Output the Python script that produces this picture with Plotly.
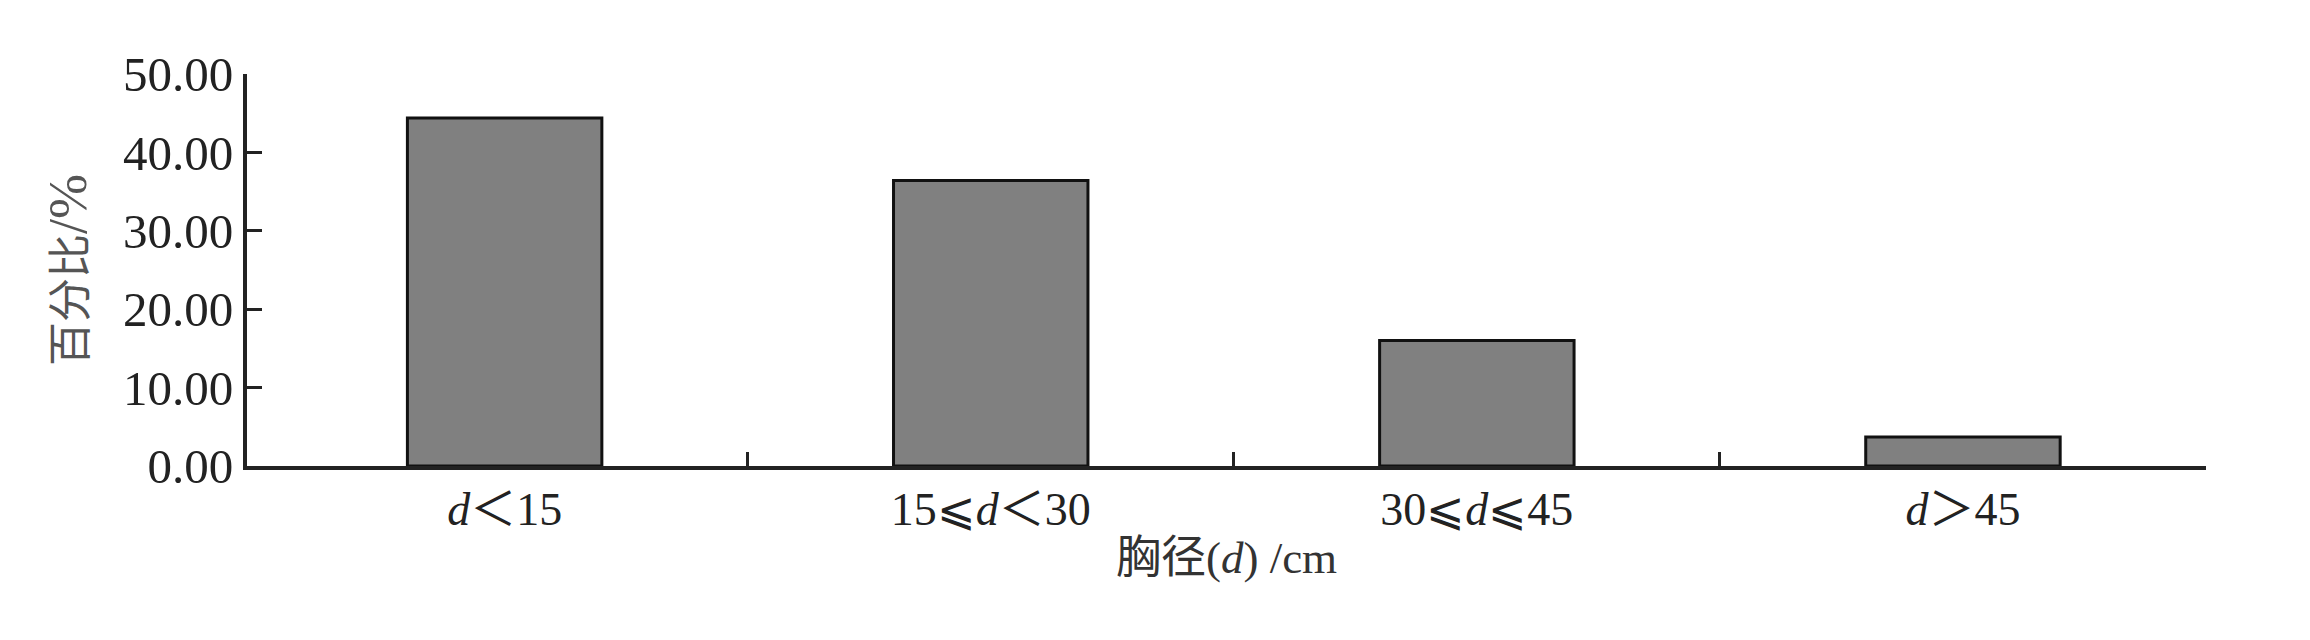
import plotly.graph_objects as go

# diameter classes and share of trees in each (%)
categories = ["lt15", "15to30", "30to45", "gt45"]
tick_labels = ["<i>d</i>＜15", "15⩽<i>d</i>＜30", "30⩽<i>d</i>⩽45", "<i>d</i>＞45"]
percent = [44.4, 36.4, 16.0, 3.7]
y_ticks = [0, 10, 20, 30, 40, 50]

serif = "Liberation Serif, Times New Roman, Noto Sans CJK SC, serif"

# first band in the original is a little wider than the rest
x_range = [-0.53, len(categories) - 0.5]
boundaries = [i + 0.5 for i in range(len(categories))]

fig = go.Figure()
fig.add_trace(go.Bar(
    x=categories,
    y=percent,
    marker=dict(color="#808080", line=dict(color="#111111", width=3)),
    showlegend=False,
))
# invisible helper so the boundary-tick axis gets drawn
fig.add_trace(go.Scatter(
    x=boundaries,
    y=[0] * len(boundaries),
    xaxis="x2",
    mode="markers",
    marker=dict(opacity=0),
    hoverinfo="skip",
    showlegend=False,
))

# page body adds ~8px offset, so margins are trimmed a bit
fig.update_layout(
    width=2310,
    height=640,
    margin=dict(l=239, r=112, t=66, b=182),
    paper_bgcolor="white",
    plot_bgcolor="white",
    bargap=0.6,
    font=dict(family=serif, size=46, color="#222222"),
    # second x axis only carries the boundary ticks
    xaxis2=dict(
        overlaying="x",
        anchor="y",
        side="bottom",
        range=x_range,
        tickvals=boundaries,
        showticklabels=False,
        ticks="inside",
        ticklen=14,
        tickwidth=3,
        tickcolor="#222222",
        showline=False,
        showgrid=False,
        zeroline=False,
        automargin=False,
    ),
)

fig.update_layout(xaxis=dict(
    type="category",
    range=x_range,
    tickvals=categories,
    ticktext=tick_labels,
    ticks="",
    showline=True,
    linecolor="#222222",
    linewidth=4,
    showgrid=False,
    zeroline=False,
    automargin=False,
    tickfont=dict(family=serif, size=46, color="#222222"),
    title=dict(text="胸径(<i>d</i>) /cm", font=dict(family=serif, size=45, color="#333333"),
               standoff=8),
))

fig.update_yaxes(
    range=[0, 50],
    tickvals=y_ticks,
    tickformat=".2f",
    ticks="inside",
    ticklen=15,
    tickwidth=3,
    tickcolor="#222222",
    showline=True,
    linecolor="#222222",
    linewidth=4,
    showgrid=False,
    zeroline=False,
    automargin=False,
    tickfont=dict(family=serif, size=49, color="#222222"),
    title=dict(text="百分比<span style='font-size:54px'>/%</span>",
               font=dict(family=serif, size=44, color="#555555"),
               standoff=24),
)

fig.write_html("out.html")
